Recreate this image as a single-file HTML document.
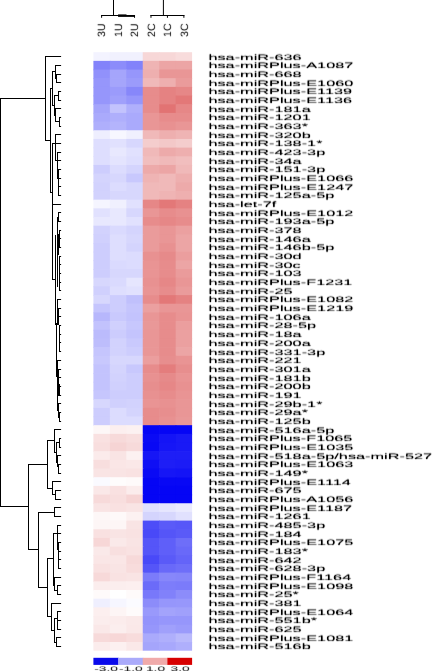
<!DOCTYPE html>
<html><head><meta charset="utf-8"><title>heatmap</title>
<style>
html,body{margin:0;padding:0;background:#fff;}
body{width:432px;height:671px;overflow:hidden;font-family:"Liberation Sans",sans-serif;}
svg{display:block;}
</style></head><body>
<svg width="432" height="671" viewBox="0 0 432 671">
<defs><filter id="tb" x="-2%" y="-2%" width="104%" height="104%"><feConvolveMatrix order="3" kernelMatrix="0 0.14 0  0.05 0.62 0.05  0 0.14 0" divisor="1" edgeMode="none" preserveAlpha="false"/><feComponentTransfer><feFuncA type="linear" slope="1.3"/></feComponentTransfer></filter><filter id="tc" x="-2%" y="-2%" width="104%" height="104%"><feConvolveMatrix order="3" kernelMatrix="0 0.06 0  0.06 0.76 0.06  0 0.06 0" divisor="1" edgeMode="none" preserveAlpha="false"/></filter></defs>
<rect width="432" height="671" fill="#fff"/>
<g><rect x="93.40" y="52.20" width="17.15" height="9.37" fill="#f3f3ff"/><rect x="109.85" y="52.20" width="17.15" height="9.37" fill="#f1f1fe"/><rect x="126.30" y="52.20" width="17.15" height="9.37" fill="#f1f1fe"/><rect x="142.75" y="52.20" width="17.15" height="9.37" fill="#f7d7d7"/><rect x="159.20" y="52.20" width="17.15" height="9.37" fill="#f7d7d7"/><rect x="175.65" y="52.20" width="16.45" height="9.37" fill="#f8dcdc"/><rect x="93.40" y="60.87" width="17.15" height="9.37" fill="#8282fa"/><rect x="109.85" y="60.87" width="17.15" height="9.37" fill="#8c8cfa"/><rect x="126.30" y="60.87" width="17.15" height="9.37" fill="#8282fa"/><rect x="142.75" y="60.87" width="17.15" height="9.37" fill="#efb4b4"/><rect x="159.20" y="60.87" width="17.15" height="9.37" fill="#eca5a5"/><rect x="175.65" y="60.87" width="16.45" height="9.37" fill="#eca5a5"/><rect x="93.40" y="69.55" width="17.15" height="9.37" fill="#9191fb"/><rect x="109.85" y="69.55" width="17.15" height="9.37" fill="#a5a5fb"/><rect x="126.30" y="69.55" width="17.15" height="9.37" fill="#9696fb"/><rect x="142.75" y="69.55" width="17.15" height="9.37" fill="#eeafaf"/><rect x="159.20" y="69.55" width="17.15" height="9.37" fill="#e99696"/><rect x="175.65" y="69.55" width="16.45" height="9.37" fill="#e99696"/><rect x="93.40" y="78.22" width="17.15" height="9.37" fill="#9696fb"/><rect x="109.85" y="78.22" width="17.15" height="9.37" fill="#a5a5fb"/><rect x="126.30" y="78.22" width="17.15" height="9.37" fill="#9b9bfb"/><rect x="142.75" y="78.22" width="17.15" height="9.37" fill="#f0b9b9"/><rect x="159.20" y="78.22" width="17.15" height="9.37" fill="#eeafaf"/><rect x="175.65" y="78.22" width="16.45" height="9.37" fill="#ea9b9b"/><rect x="93.40" y="86.90" width="17.15" height="9.37" fill="#9696fb"/><rect x="109.85" y="86.90" width="17.15" height="9.37" fill="#9b9bfb"/><rect x="126.30" y="86.90" width="17.15" height="9.37" fill="#8787fa"/><rect x="142.75" y="86.90" width="17.15" height="9.37" fill="#e78c8c"/><rect x="159.20" y="86.90" width="17.15" height="9.37" fill="#e58282"/><rect x="175.65" y="86.90" width="16.45" height="9.37" fill="#e68787"/><rect x="93.40" y="95.57" width="17.15" height="9.37" fill="#9696fb"/><rect x="109.85" y="95.57" width="17.15" height="9.37" fill="#a0a0fb"/><rect x="126.30" y="95.57" width="17.15" height="9.37" fill="#9696fb"/><rect x="142.75" y="95.57" width="17.15" height="9.37" fill="#e78c8c"/><rect x="159.20" y="95.57" width="17.15" height="9.37" fill="#e58282"/><rect x="175.65" y="95.57" width="16.45" height="9.37" fill="#e37878"/><rect x="93.40" y="104.24" width="17.15" height="9.37" fill="#a5a5fb"/><rect x="109.85" y="104.24" width="17.15" height="9.37" fill="#c3c3fd"/><rect x="126.30" y="104.24" width="17.15" height="9.37" fill="#afaffc"/><rect x="142.75" y="104.24" width="17.15" height="9.37" fill="#e78c8c"/><rect x="159.20" y="104.24" width="17.15" height="9.37" fill="#e27373"/><rect x="175.65" y="104.24" width="16.45" height="9.37" fill="#e68787"/><rect x="93.40" y="112.92" width="17.15" height="9.37" fill="#aaaafc"/><rect x="109.85" y="112.92" width="17.15" height="9.37" fill="#afaffc"/><rect x="126.30" y="112.92" width="17.15" height="9.37" fill="#aaaafc"/><rect x="142.75" y="112.92" width="17.15" height="9.37" fill="#e99696"/><rect x="159.20" y="112.92" width="17.15" height="9.37" fill="#e78c8c"/><rect x="175.65" y="112.92" width="16.45" height="9.37" fill="#e78c8c"/><rect x="93.40" y="121.59" width="17.15" height="9.37" fill="#afaffc"/><rect x="109.85" y="121.59" width="17.15" height="9.37" fill="#b4b4fc"/><rect x="126.30" y="121.59" width="17.15" height="9.37" fill="#aaaafc"/><rect x="142.75" y="121.59" width="17.15" height="9.37" fill="#e99696"/><rect x="159.20" y="121.59" width="17.15" height="9.37" fill="#e89191"/><rect x="175.65" y="121.59" width="16.45" height="9.37" fill="#e99696"/><rect x="93.40" y="130.27" width="17.15" height="9.37" fill="#eeeefe"/><rect x="109.85" y="130.27" width="17.15" height="9.37" fill="#f7f7ff"/><rect x="126.30" y="130.27" width="17.15" height="9.37" fill="#f0f0fe"/><rect x="142.75" y="130.27" width="17.15" height="9.37" fill="#f0b9b9"/><rect x="159.20" y="130.27" width="17.15" height="9.37" fill="#eeafaf"/><rect x="175.65" y="130.27" width="16.45" height="9.37" fill="#efb4b4"/><rect x="93.40" y="138.94" width="17.15" height="9.37" fill="#dedefe"/><rect x="109.85" y="138.94" width="17.15" height="9.37" fill="#e1e1fe"/><rect x="126.30" y="138.94" width="17.15" height="9.37" fill="#d7d7fd"/><rect x="142.75" y="138.94" width="17.15" height="9.37" fill="#f4cdcd"/><rect x="159.20" y="138.94" width="17.15" height="9.37" fill="#f3c8c8"/><rect x="175.65" y="138.94" width="16.45" height="9.37" fill="#f4cdcd"/><rect x="93.40" y="147.61" width="17.15" height="9.37" fill="#dedefe"/><rect x="109.85" y="147.61" width="17.15" height="9.37" fill="#e8e8fe"/><rect x="126.30" y="147.61" width="17.15" height="9.37" fill="#e1e1fe"/><rect x="142.75" y="147.61" width="17.15" height="9.37" fill="#f0b9b9"/><rect x="159.20" y="147.61" width="17.15" height="9.37" fill="#edaaaa"/><rect x="175.65" y="147.61" width="16.45" height="9.37" fill="#eeafaf"/><rect x="93.40" y="156.29" width="17.15" height="9.37" fill="#dedefe"/><rect x="109.85" y="156.29" width="17.15" height="9.37" fill="#e4e4fe"/><rect x="126.30" y="156.29" width="17.15" height="9.37" fill="#dedefe"/><rect x="142.75" y="156.29" width="17.15" height="9.37" fill="#f1bebe"/><rect x="159.20" y="156.29" width="17.15" height="9.37" fill="#f0b9b9"/><rect x="175.65" y="156.29" width="16.45" height="9.37" fill="#f1bebe"/><rect x="93.40" y="164.96" width="17.15" height="9.37" fill="#cdcdfd"/><rect x="109.85" y="164.96" width="17.15" height="9.37" fill="#dcdcfe"/><rect x="126.30" y="164.96" width="17.15" height="9.37" fill="#d4d4fd"/><rect x="142.75" y="164.96" width="17.15" height="9.37" fill="#edaaaa"/><rect x="159.20" y="164.96" width="17.15" height="9.37" fill="#eca5a5"/><rect x="175.65" y="164.96" width="16.45" height="9.37" fill="#f0b9b9"/><rect x="93.40" y="173.64" width="17.15" height="9.37" fill="#d4d4fd"/><rect x="109.85" y="173.64" width="17.15" height="9.37" fill="#d7d7fd"/><rect x="126.30" y="173.64" width="17.15" height="9.37" fill="#c8c8fd"/><rect x="142.75" y="173.64" width="17.15" height="9.37" fill="#efb4b4"/><rect x="159.20" y="173.64" width="17.15" height="9.37" fill="#f0b9b9"/><rect x="175.65" y="173.64" width="16.45" height="9.37" fill="#eeafaf"/><rect x="93.40" y="182.31" width="17.15" height="9.37" fill="#d2d2fd"/><rect x="109.85" y="182.31" width="17.15" height="9.37" fill="#dcdcfe"/><rect x="126.30" y="182.31" width="17.15" height="9.37" fill="#d7d7fd"/><rect x="142.75" y="182.31" width="17.15" height="9.37" fill="#f0b9b9"/><rect x="159.20" y="182.31" width="17.15" height="9.37" fill="#f0b9b9"/><rect x="175.65" y="182.31" width="16.45" height="9.37" fill="#edaaaa"/><rect x="93.40" y="190.98" width="17.15" height="9.37" fill="#d2d2fd"/><rect x="109.85" y="190.98" width="17.15" height="9.37" fill="#d7d7fd"/><rect x="126.30" y="190.98" width="17.15" height="9.37" fill="#d7d7fd"/><rect x="142.75" y="190.98" width="17.15" height="9.37" fill="#f0b9b9"/><rect x="159.20" y="190.98" width="17.15" height="9.37" fill="#efb4b4"/><rect x="175.65" y="190.98" width="16.45" height="9.37" fill="#eeafaf"/><rect x="93.40" y="199.66" width="17.15" height="9.37" fill="#f5f5ff"/><rect x="109.85" y="199.66" width="17.15" height="9.37" fill="#f0f0fe"/><rect x="126.30" y="199.66" width="17.15" height="9.37" fill="#e1e1fe"/><rect x="142.75" y="199.66" width="17.15" height="9.37" fill="#e68787"/><rect x="159.20" y="199.66" width="17.15" height="9.37" fill="#e37878"/><rect x="175.65" y="199.66" width="16.45" height="9.37" fill="#e58282"/><rect x="93.40" y="208.33" width="17.15" height="9.37" fill="#e1e1fe"/><rect x="109.85" y="208.33" width="17.15" height="9.37" fill="#e8e8fe"/><rect x="126.30" y="208.33" width="17.15" height="9.37" fill="#d7d7fd"/><rect x="142.75" y="208.33" width="17.15" height="9.37" fill="#e99696"/><rect x="159.20" y="208.33" width="17.15" height="9.37" fill="#e78c8c"/><rect x="175.65" y="208.33" width="16.45" height="9.37" fill="#e89191"/><rect x="93.40" y="217.01" width="17.15" height="9.37" fill="#e8e8fe"/><rect x="109.85" y="217.01" width="17.15" height="9.37" fill="#e8e8fe"/><rect x="126.30" y="217.01" width="17.15" height="9.37" fill="#e1e1fe"/><rect x="142.75" y="217.01" width="17.15" height="9.37" fill="#e78c8c"/><rect x="159.20" y="217.01" width="17.15" height="9.37" fill="#e68787"/><rect x="175.65" y="217.01" width="16.45" height="9.37" fill="#e78c8c"/><rect x="93.40" y="225.68" width="17.15" height="9.37" fill="#d2d2fd"/><rect x="109.85" y="225.68" width="17.15" height="9.37" fill="#dadafe"/><rect x="126.30" y="225.68" width="17.15" height="9.37" fill="#d4d4fd"/><rect x="142.75" y="225.68" width="17.15" height="9.37" fill="#ea9b9b"/><rect x="159.20" y="225.68" width="17.15" height="9.37" fill="#e99696"/><rect x="175.65" y="225.68" width="16.45" height="9.37" fill="#eba0a0"/><rect x="93.40" y="234.35" width="17.15" height="9.37" fill="#d0d0fd"/><rect x="109.85" y="234.35" width="17.15" height="9.37" fill="#dedefe"/><rect x="126.30" y="234.35" width="17.15" height="9.37" fill="#d7d7fd"/><rect x="142.75" y="234.35" width="17.15" height="9.37" fill="#ea9b9b"/><rect x="159.20" y="234.35" width="17.15" height="9.37" fill="#e99696"/><rect x="175.65" y="234.35" width="16.45" height="9.37" fill="#eca5a5"/><rect x="93.40" y="243.03" width="17.15" height="9.37" fill="#cdcdfd"/><rect x="109.85" y="243.03" width="17.15" height="9.37" fill="#dedefe"/><rect x="126.30" y="243.03" width="17.15" height="9.37" fill="#d4d4fd"/><rect x="142.75" y="243.03" width="17.15" height="9.37" fill="#ea9b9b"/><rect x="159.20" y="243.03" width="17.15" height="9.37" fill="#e89191"/><rect x="175.65" y="243.03" width="16.45" height="9.37" fill="#eca5a5"/><rect x="93.40" y="251.70" width="17.15" height="9.37" fill="#cdcdfd"/><rect x="109.85" y="251.70" width="17.15" height="9.37" fill="#dedefe"/><rect x="126.30" y="251.70" width="17.15" height="9.37" fill="#dcdcfe"/><rect x="142.75" y="251.70" width="17.15" height="9.37" fill="#e89191"/><rect x="159.20" y="251.70" width="17.15" height="9.37" fill="#e68a8a"/><rect x="175.65" y="251.70" width="16.45" height="9.37" fill="#eb9e9e"/><rect x="93.40" y="260.38" width="17.15" height="9.37" fill="#cdcdfd"/><rect x="109.85" y="260.38" width="17.15" height="9.37" fill="#dadafe"/><rect x="126.30" y="260.38" width="17.15" height="9.37" fill="#dcdcfe"/><rect x="142.75" y="260.38" width="17.15" height="9.37" fill="#e99494"/><rect x="159.20" y="260.38" width="17.15" height="9.37" fill="#e78c8c"/><rect x="175.65" y="260.38" width="16.45" height="9.37" fill="#eca5a5"/><rect x="93.40" y="269.05" width="17.15" height="9.37" fill="#cdcdfd"/><rect x="109.85" y="269.05" width="17.15" height="9.37" fill="#d7d7fd"/><rect x="126.30" y="269.05" width="17.15" height="9.37" fill="#d7d7fd"/><rect x="142.75" y="269.05" width="17.15" height="9.37" fill="#e99494"/><rect x="159.20" y="269.05" width="17.15" height="9.37" fill="#e78c8c"/><rect x="175.65" y="269.05" width="16.45" height="9.37" fill="#ea9b9b"/><rect x="93.40" y="277.72" width="17.15" height="9.37" fill="#d7d7fd"/><rect x="109.85" y="277.72" width="17.15" height="9.37" fill="#dadafe"/><rect x="126.30" y="277.72" width="17.15" height="9.37" fill="#e6e6fe"/><rect x="142.75" y="277.72" width="17.15" height="9.37" fill="#e89191"/><rect x="159.20" y="277.72" width="17.15" height="9.37" fill="#e68787"/><rect x="175.65" y="277.72" width="16.45" height="9.37" fill="#e99696"/><rect x="93.40" y="286.40" width="17.15" height="9.37" fill="#d0d0fd"/><rect x="109.85" y="286.40" width="17.15" height="9.37" fill="#dedefe"/><rect x="126.30" y="286.40" width="17.15" height="9.37" fill="#e1e1fe"/><rect x="142.75" y="286.40" width="17.15" height="9.37" fill="#e99494"/><rect x="159.20" y="286.40" width="17.15" height="9.37" fill="#e78c8c"/><rect x="175.65" y="286.40" width="16.45" height="9.37" fill="#ea9b9b"/><rect x="93.40" y="295.07" width="17.15" height="9.37" fill="#d7d7fd"/><rect x="109.85" y="295.07" width="17.15" height="9.37" fill="#cdcdfd"/><rect x="126.30" y="295.07" width="17.15" height="9.37" fill="#c0c0fc"/><rect x="142.75" y="295.07" width="17.15" height="9.37" fill="#e78c8c"/><rect x="159.20" y="295.07" width="17.15" height="9.37" fill="#e37878"/><rect x="175.65" y="295.07" width="16.45" height="9.37" fill="#e58282"/><rect x="93.40" y="303.75" width="17.15" height="9.37" fill="#c5c5fd"/><rect x="109.85" y="303.75" width="17.15" height="9.37" fill="#cdcdfd"/><rect x="126.30" y="303.75" width="17.15" height="9.37" fill="#c5c5fd"/><rect x="142.75" y="303.75" width="17.15" height="9.37" fill="#eba0a0"/><rect x="159.20" y="303.75" width="17.15" height="9.37" fill="#e99696"/><rect x="175.65" y="303.75" width="16.45" height="9.37" fill="#e99696"/><rect x="93.40" y="312.42" width="17.15" height="9.37" fill="#b7b7fc"/><rect x="109.85" y="312.42" width="17.15" height="9.37" fill="#c9c9fd"/><rect x="126.30" y="312.42" width="17.15" height="9.37" fill="#c3c3fd"/><rect x="142.75" y="312.42" width="17.15" height="9.37" fill="#e99696"/><rect x="159.20" y="312.42" width="17.15" height="9.37" fill="#e78c8c"/><rect x="175.65" y="312.42" width="16.45" height="9.37" fill="#e99494"/><rect x="93.40" y="321.09" width="17.15" height="9.37" fill="#c2c2fd"/><rect x="109.85" y="321.09" width="17.15" height="9.37" fill="#d0d0fd"/><rect x="126.30" y="321.09" width="17.15" height="9.37" fill="#c7c7fd"/><rect x="142.75" y="321.09" width="17.15" height="9.37" fill="#e99898"/><rect x="159.20" y="321.09" width="17.15" height="9.37" fill="#e78c8c"/><rect x="175.65" y="321.09" width="16.45" height="9.37" fill="#eb9e9e"/><rect x="93.40" y="329.77" width="17.15" height="9.37" fill="#bbbbfc"/><rect x="109.85" y="329.77" width="17.15" height="9.37" fill="#ccccfd"/><rect x="126.30" y="329.77" width="17.15" height="9.37" fill="#c4c4fd"/><rect x="142.75" y="329.77" width="17.15" height="9.37" fill="#e99696"/><rect x="159.20" y="329.77" width="17.15" height="9.37" fill="#e78c8c"/><rect x="175.65" y="329.77" width="16.45" height="9.37" fill="#eba0a0"/><rect x="93.40" y="338.44" width="17.15" height="9.37" fill="#bdbdfc"/><rect x="109.85" y="338.44" width="17.15" height="9.37" fill="#d2d2fd"/><rect x="126.30" y="338.44" width="17.15" height="9.37" fill="#c9c9fd"/><rect x="142.75" y="338.44" width="17.15" height="9.37" fill="#e99696"/><rect x="159.20" y="338.44" width="17.15" height="9.37" fill="#e78c8c"/><rect x="175.65" y="338.44" width="16.45" height="9.37" fill="#eba0a0"/><rect x="93.40" y="347.12" width="17.15" height="9.37" fill="#c5c5fd"/><rect x="109.85" y="347.12" width="17.15" height="9.37" fill="#d2d2fd"/><rect x="126.30" y="347.12" width="17.15" height="9.37" fill="#cdcdfd"/><rect x="142.75" y="347.12" width="17.15" height="9.37" fill="#e99696"/><rect x="159.20" y="347.12" width="17.15" height="9.37" fill="#e78c8c"/><rect x="175.65" y="347.12" width="16.45" height="9.37" fill="#eca5a5"/><rect x="93.40" y="355.79" width="17.15" height="9.37" fill="#c8c8fd"/><rect x="109.85" y="355.79" width="17.15" height="9.37" fill="#d7d7fd"/><rect x="126.30" y="355.79" width="17.15" height="9.37" fill="#d7d7fd"/><rect x="142.75" y="355.79" width="17.15" height="9.37" fill="#eb9e9e"/><rect x="159.20" y="355.79" width="17.15" height="9.37" fill="#e78e8e"/><rect x="175.65" y="355.79" width="16.45" height="9.37" fill="#e99494"/><rect x="93.40" y="364.46" width="17.15" height="9.37" fill="#c3c3fd"/><rect x="109.85" y="364.46" width="17.15" height="9.37" fill="#d4d4fd"/><rect x="126.30" y="364.46" width="17.15" height="9.37" fill="#c8c8fd"/><rect x="142.75" y="364.46" width="17.15" height="9.37" fill="#e78c8c"/><rect x="159.20" y="364.46" width="17.15" height="9.37" fill="#e47d7d"/><rect x="175.65" y="364.46" width="16.45" height="9.37" fill="#e78e8e"/><rect x="93.40" y="373.14" width="17.15" height="9.37" fill="#c3c3fd"/><rect x="109.85" y="373.14" width="17.15" height="9.37" fill="#d2d2fd"/><rect x="126.30" y="373.14" width="17.15" height="9.37" fill="#cdcdfd"/><rect x="142.75" y="373.14" width="17.15" height="9.37" fill="#e89191"/><rect x="159.20" y="373.14" width="17.15" height="9.37" fill="#e68a8a"/><rect x="175.65" y="373.14" width="16.45" height="9.37" fill="#e99494"/><rect x="93.40" y="381.81" width="17.15" height="9.37" fill="#c3c3fd"/><rect x="109.85" y="381.81" width="17.15" height="9.37" fill="#d0d0fd"/><rect x="126.30" y="381.81" width="17.15" height="9.37" fill="#cdcdfd"/><rect x="142.75" y="381.81" width="17.15" height="9.37" fill="#e78e8e"/><rect x="159.20" y="381.81" width="17.15" height="9.37" fill="#e68787"/><rect x="175.65" y="381.81" width="16.45" height="9.37" fill="#e89191"/><rect x="93.40" y="390.49" width="17.15" height="9.37" fill="#c6c6fd"/><rect x="109.85" y="390.49" width="17.15" height="9.37" fill="#cdcdfd"/><rect x="126.30" y="390.49" width="17.15" height="9.37" fill="#cdcdfd"/><rect x="142.75" y="390.49" width="17.15" height="9.37" fill="#e89191"/><rect x="159.20" y="390.49" width="17.15" height="9.37" fill="#e78c8c"/><rect x="175.65" y="390.49" width="16.45" height="9.37" fill="#e99494"/><rect x="93.40" y="399.16" width="17.15" height="9.37" fill="#d7d7fd"/><rect x="109.85" y="399.16" width="17.15" height="9.37" fill="#d0d0fd"/><rect x="126.30" y="399.16" width="17.15" height="9.37" fill="#d2d2fd"/><rect x="142.75" y="399.16" width="17.15" height="9.37" fill="#e99494"/><rect x="159.20" y="399.16" width="17.15" height="9.37" fill="#e89191"/><rect x="175.65" y="399.16" width="16.45" height="9.37" fill="#e99696"/><rect x="93.40" y="407.83" width="17.15" height="9.37" fill="#cdcdfd"/><rect x="109.85" y="407.83" width="17.15" height="9.37" fill="#dcdcfe"/><rect x="126.30" y="407.83" width="17.15" height="9.37" fill="#d4d4fd"/><rect x="142.75" y="407.83" width="17.15" height="9.37" fill="#e78c8c"/><rect x="159.20" y="407.83" width="17.15" height="9.37" fill="#e78e8e"/><rect x="175.65" y="407.83" width="16.45" height="9.37" fill="#e99696"/><rect x="93.40" y="416.51" width="17.15" height="9.37" fill="#cdcdfd"/><rect x="109.85" y="416.51" width="17.15" height="9.37" fill="#dcdcfe"/><rect x="126.30" y="416.51" width="17.15" height="9.37" fill="#dcdcfe"/><rect x="142.75" y="416.51" width="17.15" height="9.37" fill="#e78c8c"/><rect x="159.20" y="416.51" width="17.15" height="9.37" fill="#e89191"/><rect x="175.65" y="416.51" width="16.45" height="9.37" fill="#e99898"/><rect x="93.40" y="425.18" width="17.15" height="9.37" fill="#fdf7f7"/><rect x="109.85" y="425.18" width="17.15" height="9.37" fill="#fcefef"/><rect x="126.30" y="425.18" width="17.15" height="9.37" fill="#fcf1f1"/><rect x="142.75" y="425.18" width="17.15" height="9.37" fill="#0505f5"/><rect x="159.20" y="425.18" width="17.15" height="9.37" fill="#0505f5"/><rect x="175.65" y="425.18" width="16.45" height="9.37" fill="#0505f5"/><rect x="93.40" y="433.86" width="17.15" height="9.37" fill="#f9e1e1"/><rect x="109.85" y="433.86" width="17.15" height="9.37" fill="#f7dada"/><rect x="126.30" y="433.86" width="17.15" height="9.37" fill="#f8dede"/><rect x="142.75" y="433.86" width="17.15" height="9.37" fill="#0a0af5"/><rect x="159.20" y="433.86" width="17.15" height="9.37" fill="#1414f6"/><rect x="175.65" y="433.86" width="16.45" height="9.37" fill="#1919f6"/><rect x="93.40" y="442.53" width="17.15" height="9.37" fill="#f8dede"/><rect x="109.85" y="442.53" width="17.15" height="9.37" fill="#f6d4d4"/><rect x="126.30" y="442.53" width="17.15" height="9.37" fill="#f7dada"/><rect x="142.75" y="442.53" width="17.15" height="9.37" fill="#0808f5"/><rect x="159.20" y="442.53" width="17.15" height="9.37" fill="#1616f6"/><rect x="175.65" y="442.53" width="16.45" height="9.37" fill="#1919f6"/><rect x="93.40" y="451.20" width="17.15" height="9.37" fill="#fbebeb"/><rect x="109.85" y="451.20" width="17.15" height="9.37" fill="#f9e4e4"/><rect x="126.30" y="451.20" width="17.15" height="9.37" fill="#fcf1f1"/><rect x="142.75" y="451.20" width="17.15" height="9.37" fill="#1616f6"/><rect x="159.20" y="451.20" width="17.15" height="9.37" fill="#1e1ef6"/><rect x="175.65" y="451.20" width="16.45" height="9.37" fill="#1e1ef6"/><rect x="93.40" y="459.88" width="17.15" height="9.37" fill="#f8dede"/><rect x="109.85" y="459.88" width="17.15" height="9.37" fill="#fae6e6"/><rect x="126.30" y="459.88" width="17.15" height="9.37" fill="#fae8e8"/><rect x="142.75" y="459.88" width="17.15" height="9.37" fill="#0f0ff5"/><rect x="159.20" y="459.88" width="17.15" height="9.37" fill="#1e1ef6"/><rect x="175.65" y="459.88" width="16.45" height="9.37" fill="#1c1cf6"/><rect x="93.40" y="468.55" width="17.15" height="9.37" fill="#f9e4e4"/><rect x="109.85" y="468.55" width="17.15" height="9.37" fill="#f9e4e4"/><rect x="126.30" y="468.55" width="17.15" height="9.37" fill="#f9e2e2"/><rect x="142.75" y="468.55" width="17.15" height="9.37" fill="#0a0af5"/><rect x="159.20" y="468.55" width="17.15" height="9.37" fill="#1616f6"/><rect x="175.65" y="468.55" width="16.45" height="9.37" fill="#1414f6"/><rect x="93.40" y="477.23" width="17.15" height="9.37" fill="#fafaff"/><rect x="109.85" y="477.23" width="17.15" height="9.37" fill="#fefcfc"/><rect x="126.30" y="477.23" width="17.15" height="9.37" fill="#fefafa"/><rect x="142.75" y="477.23" width="17.15" height="9.37" fill="#0505f5"/><rect x="159.20" y="477.23" width="17.15" height="9.37" fill="#0808f5"/><rect x="175.65" y="477.23" width="16.45" height="9.37" fill="#0808f5"/><rect x="93.40" y="485.90" width="17.15" height="9.37" fill="#fae8e8"/><rect x="109.85" y="485.90" width="17.15" height="9.37" fill="#f9e1e1"/><rect x="126.30" y="485.90" width="17.15" height="9.37" fill="#fbecec"/><rect x="142.75" y="485.90" width="17.15" height="9.37" fill="#0505f5"/><rect x="159.20" y="485.90" width="17.15" height="9.37" fill="#0505f5"/><rect x="175.65" y="485.90" width="16.45" height="9.37" fill="#0505f5"/><rect x="93.40" y="494.57" width="17.15" height="9.37" fill="#f7dada"/><rect x="109.85" y="494.57" width="17.15" height="9.37" fill="#f8dede"/><rect x="126.30" y="494.57" width="17.15" height="9.37" fill="#f6d4d4"/><rect x="142.75" y="494.57" width="17.15" height="9.37" fill="#0505f5"/><rect x="159.20" y="494.57" width="17.15" height="9.37" fill="#0505f5"/><rect x="175.65" y="494.57" width="16.45" height="9.37" fill="#0505f5"/><rect x="93.40" y="503.25" width="17.15" height="9.37" fill="#f9e4e4"/><rect x="109.85" y="503.25" width="17.15" height="9.37" fill="#f9e1e1"/><rect x="126.30" y="503.25" width="17.15" height="9.37" fill="#f9e4e4"/><rect x="142.75" y="503.25" width="17.15" height="9.37" fill="#e1e1fe"/><rect x="159.20" y="503.25" width="17.15" height="9.37" fill="#e6e6fe"/><rect x="175.65" y="503.25" width="16.45" height="9.37" fill="#ebebfe"/><rect x="93.40" y="511.92" width="17.15" height="9.37" fill="#fdf7f7"/><rect x="109.85" y="511.92" width="17.15" height="9.37" fill="#fef9f9"/><rect x="126.30" y="511.92" width="17.15" height="9.37" fill="#fcf1f1"/><rect x="142.75" y="511.92" width="17.15" height="9.37" fill="#d4d4fd"/><rect x="159.20" y="511.92" width="17.15" height="9.37" fill="#d7d7fd"/><rect x="175.65" y="511.92" width="16.45" height="9.37" fill="#e1e1fe"/><rect x="93.40" y="520.60" width="17.15" height="9.37" fill="#fdf6f6"/><rect x="109.85" y="520.60" width="17.15" height="9.37" fill="#fdf6f6"/><rect x="126.30" y="520.60" width="17.15" height="9.37" fill="#f9e4e4"/><rect x="142.75" y="520.60" width="17.15" height="9.37" fill="#4d4df8"/><rect x="159.20" y="520.60" width="17.15" height="9.37" fill="#5a5af8"/><rect x="175.65" y="520.60" width="16.45" height="9.37" fill="#5757f8"/><rect x="93.40" y="529.27" width="17.15" height="9.37" fill="#f9e1e1"/><rect x="109.85" y="529.27" width="17.15" height="9.37" fill="#f9e4e4"/><rect x="126.30" y="529.27" width="17.15" height="9.37" fill="#f9e2e2"/><rect x="142.75" y="529.27" width="17.15" height="9.37" fill="#4949f8"/><rect x="159.20" y="529.27" width="17.15" height="9.37" fill="#5555f8"/><rect x="175.65" y="529.27" width="16.45" height="9.37" fill="#5a5af8"/><rect x="93.40" y="537.94" width="17.15" height="9.37" fill="#f7d7d7"/><rect x="109.85" y="537.94" width="17.15" height="9.37" fill="#fae9e9"/><rect x="126.30" y="537.94" width="17.15" height="9.37" fill="#f9e4e4"/><rect x="142.75" y="537.94" width="17.15" height="9.37" fill="#5555f8"/><rect x="159.20" y="537.94" width="17.15" height="9.37" fill="#5f5ff9"/><rect x="175.65" y="537.94" width="16.45" height="9.37" fill="#6e6ef9"/><rect x="93.40" y="546.62" width="17.15" height="9.37" fill="#fae9e9"/><rect x="109.85" y="546.62" width="17.15" height="9.37" fill="#f8dfdf"/><rect x="126.30" y="546.62" width="17.15" height="9.37" fill="#f9e2e2"/><rect x="142.75" y="546.62" width="17.15" height="9.37" fill="#5555f8"/><rect x="159.20" y="546.62" width="17.15" height="9.37" fill="#5f5ff9"/><rect x="175.65" y="546.62" width="16.45" height="9.37" fill="#6969f9"/><rect x="93.40" y="555.29" width="17.15" height="9.37" fill="#fae6e6"/><rect x="109.85" y="555.29" width="17.15" height="9.37" fill="#fae6e6"/><rect x="126.30" y="555.29" width="17.15" height="9.37" fill="#f7d9d9"/><rect x="142.75" y="555.29" width="17.15" height="9.37" fill="#4949f8"/><rect x="159.20" y="555.29" width="17.15" height="9.37" fill="#5a5af8"/><rect x="175.65" y="555.29" width="16.45" height="9.37" fill="#6464f9"/><rect x="93.40" y="563.97" width="17.15" height="9.37" fill="#f9e1e1"/><rect x="109.85" y="563.97" width="17.15" height="9.37" fill="#f9e4e4"/><rect x="126.30" y="563.97" width="17.15" height="9.37" fill="#f8dcdc"/><rect x="142.75" y="563.97" width="17.15" height="9.37" fill="#5555f8"/><rect x="159.20" y="563.97" width="17.15" height="9.37" fill="#6969f9"/><rect x="175.65" y="563.97" width="16.45" height="9.37" fill="#6e6ef9"/><rect x="93.40" y="572.64" width="17.15" height="9.37" fill="#f7d9d9"/><rect x="109.85" y="572.64" width="17.15" height="9.37" fill="#f9e2e2"/><rect x="126.30" y="572.64" width="17.15" height="9.37" fill="#f9e4e4"/><rect x="142.75" y="572.64" width="17.15" height="9.37" fill="#7b7bfa"/><rect x="159.20" y="572.64" width="17.15" height="9.37" fill="#8787fa"/><rect x="175.65" y="572.64" width="16.45" height="9.37" fill="#8585fa"/><rect x="93.40" y="581.31" width="17.15" height="9.37" fill="#fbeded"/><rect x="109.85" y="581.31" width="17.15" height="9.37" fill="#fbeeee"/><rect x="126.30" y="581.31" width="17.15" height="9.37" fill="#fcefef"/><rect x="142.75" y="581.31" width="17.15" height="9.37" fill="#6b6bf9"/><rect x="159.20" y="581.31" width="17.15" height="9.37" fill="#7d7dfa"/><rect x="175.65" y="581.31" width="16.45" height="9.37" fill="#7b7bfa"/><rect x="93.40" y="589.99" width="17.15" height="9.37" fill="#fefafa"/><rect x="109.85" y="589.99" width="17.15" height="9.37" fill="#ffffff"/><rect x="126.30" y="589.99" width="17.15" height="9.37" fill="#fefafa"/><rect x="142.75" y="589.99" width="17.15" height="9.37" fill="#7878fa"/><rect x="159.20" y="589.99" width="17.15" height="9.37" fill="#8181fa"/><rect x="175.65" y="589.99" width="16.45" height="9.37" fill="#8c8cfa"/><rect x="93.40" y="598.66" width="17.15" height="9.37" fill="#efeffe"/><rect x="109.85" y="598.66" width="17.15" height="9.37" fill="#f6f6ff"/><rect x="126.30" y="598.66" width="17.15" height="9.37" fill="#fbfbff"/><rect x="142.75" y="598.66" width="17.15" height="9.37" fill="#8c8cfa"/><rect x="159.20" y="598.66" width="17.15" height="9.37" fill="#9696fb"/><rect x="175.65" y="598.66" width="16.45" height="9.37" fill="#9797fb"/><rect x="93.40" y="607.34" width="17.15" height="9.37" fill="#fcefef"/><rect x="109.85" y="607.34" width="17.15" height="9.37" fill="#fdf5f5"/><rect x="126.30" y="607.34" width="17.15" height="9.37" fill="#fefbfb"/><rect x="142.75" y="607.34" width="17.15" height="9.37" fill="#9999fb"/><rect x="159.20" y="607.34" width="17.15" height="9.37" fill="#a3a3fb"/><rect x="175.65" y="607.34" width="16.45" height="9.37" fill="#a0a0fb"/><rect x="93.40" y="616.01" width="17.15" height="9.37" fill="#fbeded"/><rect x="109.85" y="616.01" width="17.15" height="9.37" fill="#fbecec"/><rect x="126.30" y="616.01" width="17.15" height="9.37" fill="#fae9e9"/><rect x="142.75" y="616.01" width="17.15" height="9.37" fill="#9393fb"/><rect x="159.20" y="616.01" width="17.15" height="9.37" fill="#9696fb"/><rect x="175.65" y="616.01" width="16.45" height="9.37" fill="#9696fb"/><rect x="93.40" y="624.68" width="17.15" height="9.37" fill="#fae8e8"/><rect x="109.85" y="624.68" width="17.15" height="9.37" fill="#fbeeee"/><rect x="126.30" y="624.68" width="17.15" height="9.37" fill="#fae8e8"/><rect x="142.75" y="624.68" width="17.15" height="9.37" fill="#9696fb"/><rect x="159.20" y="624.68" width="17.15" height="9.37" fill="#a0a0fb"/><rect x="175.65" y="624.68" width="16.45" height="9.37" fill="#9b9bfb"/><rect x="93.40" y="633.36" width="17.15" height="9.37" fill="#f7dada"/><rect x="109.85" y="633.36" width="17.15" height="9.37" fill="#f7d7d7"/><rect x="126.30" y="633.36" width="17.15" height="9.37" fill="#f8dcdc"/><rect x="142.75" y="633.36" width="17.15" height="9.37" fill="#aaaafc"/><rect x="159.20" y="633.36" width="17.15" height="9.37" fill="#afaffc"/><rect x="175.65" y="633.36" width="16.45" height="9.37" fill="#b9b9fc"/><rect x="93.40" y="642.03" width="17.15" height="8.67" fill="#fbecec"/><rect x="109.85" y="642.03" width="17.15" height="8.67" fill="#fcf0f0"/><rect x="126.30" y="642.03" width="17.15" height="8.67" fill="#fae8e8"/><rect x="142.75" y="642.03" width="17.15" height="8.67" fill="#a5a5fb"/><rect x="159.20" y="642.03" width="17.15" height="8.67" fill="#a8a8fc"/><rect x="175.65" y="642.03" width="16.45" height="8.67" fill="#afaffc"/></g>
<g font-family="Liberation Sans, sans-serif" font-size="16.31" fill="#000" text-rendering="geometricPrecision" filter="url(#tb)"><text transform="translate(208.40,59.60) scale(1,0.480)" x="0" y="0">hsa-miR-636</text><text transform="translate(208.40,68.27) scale(1,0.480)" x="0" y="0">hsa-miRPlus-A1087</text><text transform="translate(208.40,76.95) scale(1,0.480)" x="0" y="0">hsa-miR-668</text><text transform="translate(208.40,85.62) scale(1,0.480)" x="0" y="0">hsa-miRPlus-E1060</text><text transform="translate(208.40,94.29) scale(1,0.480)" x="0" y="0">hsa-miRPlus-E1139</text><text transform="translate(208.40,102.97) scale(1,0.480)" x="0" y="0">hsa-miRPlus-E1136</text><text transform="translate(208.40,111.64) scale(1,0.480)" x="0" y="0">hsa-miR-181a</text><text transform="translate(208.40,120.31) scale(1,0.480)" x="0" y="0">hsa-miR-1201</text><text transform="translate(208.40,128.99) scale(1,0.480)" x="0" y="0">hsa-miR-363*</text><text transform="translate(208.40,137.66) scale(1,0.480)" x="0" y="0">hsa-miR-320b</text><text transform="translate(208.40,146.34) scale(1,0.480)" x="0" y="0">hsa-miR-138-1*</text><text transform="translate(208.40,155.01) scale(1,0.480)" x="0" y="0">hsa-miR-423-3p</text><text transform="translate(208.40,163.69) scale(1,0.480)" x="0" y="0">hsa-miR-34a</text><text transform="translate(208.40,172.36) scale(1,0.480)" x="0" y="0">hsa-miR-151-3p</text><text transform="translate(208.40,181.03) scale(1,0.480)" x="0" y="0">hsa-miRPlus-E1066</text><text transform="translate(208.40,189.71) scale(1,0.480)" x="0" y="0">hsa-miRPlus-E1247</text><text transform="translate(208.40,198.38) scale(1,0.480)" x="0" y="0">hsa-miR-125a-5p</text><text transform="translate(208.40,207.06) scale(1,0.480)" x="0" y="0">hsa-let-7f</text><text transform="translate(208.40,215.73) scale(1,0.480)" x="0" y="0">hsa-miRPlus-E1012</text><text transform="translate(208.40,224.40) scale(1,0.480)" x="0" y="0">hsa-miR-193a-5p</text><text transform="translate(208.40,233.08) scale(1,0.480)" x="0" y="0">hsa-miR-378</text><text transform="translate(208.40,241.75) scale(1,0.480)" x="0" y="0">hsa-miR-146a</text><text transform="translate(208.40,250.43) scale(1,0.480)" x="0" y="0">hsa-miR-146b-5p</text><text transform="translate(208.40,259.10) scale(1,0.480)" x="0" y="0">hsa-miR-30d</text><text transform="translate(208.40,267.77) scale(1,0.480)" x="0" y="0">hsa-miR-30c</text><text transform="translate(208.40,276.45) scale(1,0.480)" x="0" y="0">hsa-miR-103</text><text transform="translate(208.40,285.12) scale(1,0.480)" x="0" y="0">hsa-miRPlus-F1231</text><text transform="translate(208.40,293.80) scale(1,0.480)" x="0" y="0">hsa-miR-25</text><text transform="translate(208.40,302.47) scale(1,0.480)" x="0" y="0">hsa-miRPlus-E1082</text><text transform="translate(208.40,311.14) scale(1,0.480)" x="0" y="0">hsa-miRPlus-E1219</text><text transform="translate(208.40,319.82) scale(1,0.480)" x="0" y="0">hsa-miR-106a</text><text transform="translate(208.40,328.49) scale(1,0.480)" x="0" y="0">hsa-miR-28-5p</text><text transform="translate(208.40,337.16) scale(1,0.480)" x="0" y="0">hsa-miR-18a</text><text transform="translate(208.40,345.84) scale(1,0.480)" x="0" y="0">hsa-miR-200a</text><text transform="translate(208.40,354.51) scale(1,0.480)" x="0" y="0">hsa-miR-331-3p</text><text transform="translate(208.40,363.19) scale(1,0.480)" x="0" y="0">hsa-miR-221</text><text transform="translate(208.40,371.86) scale(1,0.480)" x="0" y="0">hsa-miR-301a</text><text transform="translate(208.40,380.53) scale(1,0.480)" x="0" y="0">hsa-miR-181b</text><text transform="translate(208.40,389.21) scale(1,0.480)" x="0" y="0">hsa-miR-200b</text><text transform="translate(208.40,397.88) scale(1,0.480)" x="0" y="0">hsa-miR-191</text><text transform="translate(208.40,406.56) scale(1,0.480)" x="0" y="0">hsa-miR-29b-1*</text><text transform="translate(208.40,415.23) scale(1,0.480)" x="0" y="0">hsa-miR-29a*</text><text transform="translate(208.40,423.90) scale(1,0.480)" x="0" y="0">hsa-miR-125b</text><text transform="translate(208.40,432.58) scale(1,0.480)" x="0" y="0">hsa-miR-516a-5p</text><text transform="translate(208.40,441.25) scale(1,0.480)" x="0" y="0">hsa-miRPlus-F1065</text><text transform="translate(208.40,449.93) scale(1,0.480)" x="0" y="0">hsa-miRPlus-E1035</text><text transform="translate(208.40,458.60) scale(1,0.480)" x="0" y="0">hsa-miR-518a-5p/hsa-miR-527</text><text transform="translate(208.40,467.27) scale(1,0.480)" x="0" y="0">hsa-miRPlus-E1063</text><text transform="translate(208.40,475.95) scale(1,0.480)" x="0" y="0">hsa-miR-149*</text><text transform="translate(208.40,484.62) scale(1,0.480)" x="0" y="0">hsa-miRPlus-E1114</text><text transform="translate(208.40,493.30) scale(1,0.480)" x="0" y="0">hsa-miR-675</text><text transform="translate(208.40,501.97) scale(1,0.480)" x="0" y="0">hsa-miRPlus-A1056</text><text transform="translate(208.40,510.64) scale(1,0.480)" x="0" y="0">hsa-miRPlus-E1187</text><text transform="translate(208.40,519.32) scale(1,0.480)" x="0" y="0">hsa-miR-1261</text><text transform="translate(208.40,527.99) scale(1,0.480)" x="0" y="0">hsa-miR-485-3p</text><text transform="translate(208.40,536.67) scale(1,0.480)" x="0" y="0">hsa-miR-184</text><text transform="translate(208.40,545.34) scale(1,0.480)" x="0" y="0">hsa-miRPlus-E1075</text><text transform="translate(208.40,554.01) scale(1,0.480)" x="0" y="0">hsa-miR-183*</text><text transform="translate(208.40,562.69) scale(1,0.480)" x="0" y="0">hsa-miR-642</text><text transform="translate(208.40,571.36) scale(1,0.480)" x="0" y="0">hsa-miR-628-3p</text><text transform="translate(208.40,580.04) scale(1,0.480)" x="0" y="0">hsa-miRPlus-F1164</text><text transform="translate(208.40,588.71) scale(1,0.480)" x="0" y="0">hsa-miRPlus-E1098</text><text transform="translate(208.40,597.38) scale(1,0.480)" x="0" y="0">hsa-miR-25*</text><text transform="translate(208.40,606.06) scale(1,0.480)" x="0" y="0">hsa-miR-381</text><text transform="translate(208.40,614.73) scale(1,0.480)" x="0" y="0">hsa-miRPlus-E1064</text><text transform="translate(208.40,623.41) scale(1,0.480)" x="0" y="0">hsa-miR-551b*</text><text transform="translate(208.40,632.08) scale(1,0.480)" x="0" y="0">hsa-miR-625</text><text transform="translate(208.40,640.75) scale(1,0.480)" x="0" y="0">hsa-miRPlus-E1081</text><text transform="translate(208.40,649.43) scale(1,0.480)" x="0" y="0">hsa-miR-516b</text></g>
<g font-family="Liberation Sans, sans-serif" font-size="10.6" fill="#000" text-rendering="geometricPrecision" filter="url(#tc)"><text transform="translate(105.38,36.90) rotate(-90) scale(1,1.000)" x="0" y="0">3U</text><text transform="translate(121.83,36.90) rotate(-90) scale(1,1.000)" x="0" y="0">1U</text><text transform="translate(138.28,36.90) rotate(-90) scale(1,1.000)" x="0" y="0">2U</text><text transform="translate(154.72,36.90) rotate(-90) scale(1,1.000)" x="0" y="0">2C</text><text transform="translate(171.18,36.90) rotate(-90) scale(1,1.000)" x="0" y="0">1C</text><text transform="translate(187.62,36.90) rotate(-90) scale(1,1.000)" x="0" y="0">3C</text></g>
<rect x="93.40" y="657.80" width="25.27" height="7.10" fill="#0a0aeb"/>
<rect x="118.08" y="657.80" width="25.27" height="7.10" fill="#aaaafa"/>
<rect x="142.75" y="657.80" width="25.27" height="7.10" fill="#f0aaaa"/>
<rect x="167.43" y="657.80" width="24.67" height="7.10" fill="#d70000"/>
<g font-family="Liberation Sans, sans-serif" font-size="13.8" fill="#000" text-rendering="geometricPrecision" filter="url(#tc)"><text text-anchor="middle" transform="translate(106.14,671.30) scale(1,0.478)" x="0" y="0">-3.0</text><text text-anchor="middle" transform="translate(130.81,671.30) scale(1,0.478)" x="0" y="0">-1.0</text><text text-anchor="middle" transform="translate(155.49,671.30) scale(1,0.478)" x="0" y="0">1.0</text><text text-anchor="middle" transform="translate(180.16,671.30) scale(1,0.478)" x="0" y="0">3.0</text></g>
<path d="M113.50 0.00V15.50M101.62 15.50H134.53M101.62 15.50V17.30M134.53 15.50V17.30M118.58 16.40H134.53M118.58 14.90H126.00M163.40 0.00V15.50M150.97 15.50H183.88M150.97 15.50V17.30M167.43 15.50V17.30M183.88 15.50V17.30M0.50 98.50V506.50M0.50 98.50H45.50M0.50 506.50H28.50M45.50 56.50H60.60M45.50 56.50V140.50M45.50 140.50H50.50M50.50 88.50V192.50M50.50 88.50H52.50M52.50 71.50V105.50M52.50 71.50H55.50M55.50 65.50V78.50M55.50 65.50H60.60M56.50 74.50V82.50M56.50 74.50H60.60M56.50 82.50H60.60M55.50 78.50H56.50M52.50 105.50H54.50M54.50 95.50V115.50M54.50 95.50H58.50M58.50 91.50V100.50M58.50 91.50H60.60M58.50 100.50H60.60M54.50 115.50H55.50M55.50 108.50V121.50M55.50 108.50H60.60M55.50 121.50H59.50M59.50 117.50V126.50M59.50 117.50H60.60M59.50 126.50H60.60M50.50 192.50H52.50M52.50 143.50V279.50M52.50 143.50H60.60M55.50 134.50H60.60M55.50 134.50V160.50M57.50 152.50H60.60M57.50 152.50V178.50M55.50 160.50H60.60M58.50 169.50H60.60M58.50 178.50H60.60M58.50 169.50V195.50M59.50 186.50H60.60M59.50 195.50H60.60M52.50 204.50H60.60M58.50 212.50H60.60M58.50 221.50H60.60M58.50 212.50V221.50M57.50 217.50H58.50M57.50 217.50V286.50M59.50 230.50H60.60M59.50 238.50H60.60M59.50 247.50H60.60M59.50 230.50V247.50M58.50 234.50V254.50M55.50 235.50V324.50M52.50 279.50H55.50M59.50 256.50H60.60M59.50 264.50H60.60M59.50 273.50H60.60M59.50 282.50H60.60M59.50 290.50H60.60M59.50 256.50V290.50M57.50 299.50H60.60M57.50 299.50V324.50M58.50 308.50H60.60M59.50 316.50H60.60M58.50 308.50V324.50M56.50 323.50V376.50M59.50 325.50H60.60M59.50 334.50H60.60M59.50 342.50H60.60M59.50 351.50H60.60M59.50 325.50V351.50M57.50 360.50H60.60M58.50 369.50H60.60M57.50 360.50V377.50M58.50 369.50V395.50M58.50 377.50H60.60M58.50 386.50H60.60M59.50 395.50H60.60M59.50 384.50V395.50M57.50 377.50V410.50M57.50 403.50H60.60M58.50 403.50V417.50M59.50 412.50H60.60M59.50 412.50V421.50M59.50 421.50H60.60M28.50 464.50V549.50M28.50 464.50H47.50M47.50 440.50V488.50M47.50 440.50H54.50M54.50 429.50V452.50M54.50 429.50H60.60M54.50 452.50H56.50M56.50 442.50V462.50M56.50 442.50H59.50M59.50 438.50V447.50M59.50 438.50H60.60M59.50 447.50H60.60M56.50 455.50H60.60M57.50 455.50V466.50M58.50 464.50H60.60M58.50 464.50V473.50M59.50 473.50H60.60M47.50 488.50H52.50M52.50 481.50V494.50M52.50 481.50H60.60M52.50 494.50H55.50M55.50 490.50V499.50M55.50 490.50H60.60M55.50 499.50H60.60M28.50 549.50H38.50M38.50 512.50V587.50M38.50 512.50H54.50M54.50 507.50V516.50M54.50 507.50H60.60M54.50 516.50H60.60M38.50 587.50H47.50M47.50 558.50V616.50M47.50 558.50H53.50M53.50 533.50V585.50M53.50 533.50H57.50M57.50 525.50V549.50M57.50 525.50H60.60M58.50 533.50H60.60M58.50 542.50H60.60M58.50 551.50H60.60M58.50 542.50V568.50M58.50 559.50H60.60M58.50 568.50H60.60M53.50 585.50H54.50M54.50 577.50H60.60M54.50 577.50V590.50M54.50 590.50H57.50M57.50 585.50V594.50M57.50 585.50H60.60M57.50 594.50H60.60M47.50 616.50H51.50M51.50 603.50V630.50M51.50 603.50H60.60M51.50 630.50H54.50M54.50 618.50V642.50M54.50 618.50H57.50M57.50 611.50V629.50M57.50 611.50H60.60M57.50 620.50H60.60M57.50 629.50H60.60M54.50 642.50H56.50M56.50 637.50V646.50M56.50 637.50H60.60M56.50 646.50H60.60" fill="none" stroke="#000" stroke-width="1" stroke-linecap="square"/>
</svg>
</body></html>
